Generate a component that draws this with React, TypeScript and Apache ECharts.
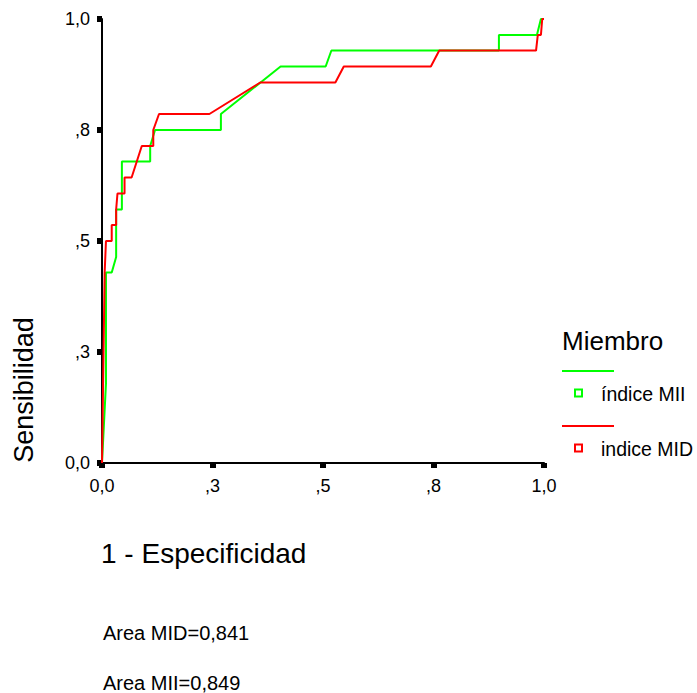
import React, { useEffect, useRef } from "react";
import * as echarts from "echarts";

// ROC curve points: 1 - specificity (x) and sensitivity (y)
const fprMII = [0, 0.009, 0.009, 0.022, 0.032, 0.032, 0.045, 0.045, 0.109, 0.109, 0.12, 0.269, 0.269, 0.404, 0.506, 0.519, 0.898, 0.898, 0.984, 0.993, 1];
const tprMII = [0, 0.179, 0.429, 0.429, 0.464, 0.571, 0.571, 0.679, 0.679, 0.714, 0.75, 0.75, 0.786, 0.893, 0.893, 0.929, 0.929, 0.964, 0.964, 1, 1];

const fprMID = [0, 0.006, 0.009, 0.022, 0.022, 0.032, 0.032, 0.035, 0.051, 0.051, 0.067, 0.09, 0.116, 0.116, 0.129, 0.243, 0.358, 0.528, 0.547, 0.744, 0.763, 0.982, 0.986, 0.993, 0.996, 1];
const tprMID = [0, 0.429, 0.5, 0.5, 0.536, 0.536, 0.571, 0.607, 0.607, 0.643, 0.643, 0.714, 0.714, 0.75, 0.786, 0.786, 0.857, 0.857, 0.893, 0.893, 0.929, 0.929, 0.964, 0.964, 1, 1];

const tickLabels = ["0,0", ",3", ",5", ",8", "1,0"];
const seriesNames = ["índice MII", "indice MID"];
const seriesColors = ["#00ff00", "#ff0000"];
const areaTexts = ["Area MID=0,841", "Area MII=0,849"];

const FONT = "'Liberation Sans', Arial, sans-serif";

const pairs = (xs: number[], ys: number[]) => xs.map((x, i) => [x, ys[i]]);
const tickFmt = (v: number) => tickLabels[Math.round(v / 0.25)] ?? "";

export default function App() {
  const ref = useRef<HTMLDivElement>(null);

  useEffect(() => {
    if (!ref.current) return;
    const chart = echarts.init(ref.current, null, { renderer: "svg" });

    const axisCommon = {
      type: "value" as const,
      min: 0,
      max: 1,
      interval: 0.25,
      splitLine: { show: false },
      axisLine: { show: true, lineStyle: { color: "#000", width: 2 } },
      axisTick: { show: true, length: 5, lineStyle: { color: "#000", width: 6 } },
      axisLabel: { color: "#000", fontSize: 18, fontFamily: FONT, formatter: tickFmt },
    };

    const legendItem = (i: number, lineY: number, rowY: number) => [
      {
        type: "line",
        shape: { x1: 562, y1: lineY, x2: 614, y2: lineY },
        style: { stroke: seriesColors[i], lineWidth: 2 },
      },
      {
        type: "rect",
        shape: { x: 575, y: rowY - 3.5, width: 7, height: 7 },
        style: { fill: "#fff", stroke: seriesColors[i], lineWidth: 2 },
      },
      {
        type: "text",
        x: 601,
        y: rowY + 1,
        style: { text: seriesNames[i], fill: "#000", fontSize: 19.5, fontFamily: FONT, textVerticalAlign: "middle" },
      },
    ];

    chart.setOption({
      animation: false,
      backgroundColor: "#fff",
      grid: { left: 102, top: 19, width: 442, height: 444 },
      xAxis: { ...axisCommon, axisLabel: { ...axisCommon.axisLabel, margin: 14 } },
      yAxis: { ...axisCommon, axisLabel: { ...axisCommon.axisLabel, margin: 12, padding: [5, 0, 0, 0] } },
      series: [
        {
          name: seriesNames[0],
          type: "line",
          data: pairs(fprMII, tprMII),
          showSymbol: false,
          lineStyle: { color: seriesColors[0], width: 2 },
          itemStyle: { color: seriesColors[0] },
        },
        {
          name: seriesNames[1],
          type: "line",
          data: pairs(fprMID, tprMID),
          showSymbol: false,
          lineStyle: { color: seriesColors[1], width: 2 },
          itemStyle: { color: seriesColors[1] },
        },
      ],
      graphic: [
        {
          type: "text",
          x: 24,
          y: 390,
          rotation: Math.PI / 2,
          style: { text: "Sensibilidad", fill: "#000", fontSize: 27, fontFamily: FONT, textAlign: "center", textVerticalAlign: "middle" },
        },
        {
          type: "text",
          x: 101,
          y: 553,
          style: { text: "1 - Especificidad", fill: "#000", fontSize: 28, fontFamily: FONT, textVerticalAlign: "middle" },
        },
        {
          type: "text",
          x: 562,
          y: 341,
          style: { text: "Miembro", fill: "#000", fontSize: 26, fontFamily: FONT, textVerticalAlign: "middle" },
        },
        ...legendItem(0, 371, 393),
        ...legendItem(1, 426, 448),
        {
          type: "text",
          x: 103,
          y: 633,
          style: { text: areaTexts[0], fill: "#000", fontSize: 20, fontFamily: FONT, textVerticalAlign: "middle" },
        },
        {
          type: "text",
          x: 103,
          y: 683,
          style: { text: areaTexts[1], fill: "#000", fontSize: 20, fontFamily: FONT, textVerticalAlign: "middle" },
        },
      ],
    });

    return () => chart.dispose();
  }, []);

  return <div ref={ref} style={{ position: "absolute", left: 0, top: 0, width: 697, height: 693 }} />;
}
